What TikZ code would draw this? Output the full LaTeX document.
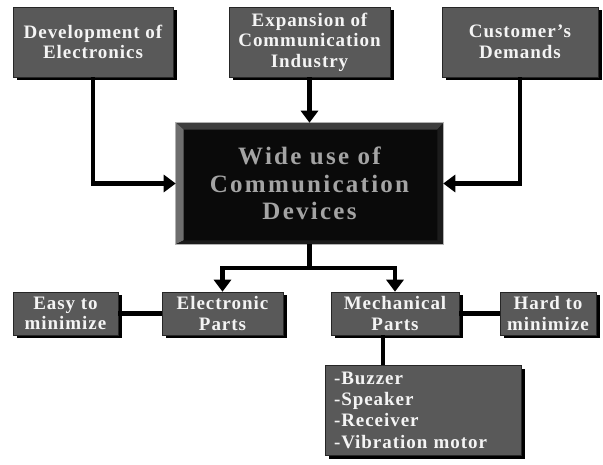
\documentclass[tikz,border=0pt]{standalone}
\usepackage{fontspec}
\newfontfamily\boxfont{Liberation Serif}[LetterSpace=5]
\newfontfamily\bigboxfont{Liberation Serif}[LetterSpace=9]
\usetikzlibrary{arrows.meta,shadows,calc}
\definecolor{boxgray}{HTML}{595959}
\definecolor{boxtext}{HTML}{F4F4F4}
\definecolor{mainfill}{HTML}{0A0A0A}
\definecolor{maintext}{HTML}{A4A4A4}
\definecolor{bevtop}{HTML}{3E3E3E}
\definecolor{bevleft}{HTML}{6E6E6E}
\definecolor{bevdark}{HTML}{1C1C1C}
\begin{document}
\begin{tikzpicture}[x=1pt,y=-1pt,
  gbox/.style={draw=black!85, line width=0.6pt, fill=boxgray, text=boxtext,
    font=\boxfont\bfseries\fontsize{19}{20.5}\selectfont, align=center, inner sep=0pt,
    drop shadow={shadow xshift=3.5pt, shadow yshift=-3.5pt, fill=black, opacity=1}},
  conn/.style={line width=4.5pt},
  arr/.style={conn, -{Triangle[width=17pt,length=12pt]}}]
\fill[white] (0,0) rectangle (603,465);
\useasboundingbox (0,0) rectangle (603,465);

% top boxes
\node[gbox, minimum width=160pt, minimum height=70pt] (dev) at (93,42) {Development of\\Electronics};
\node[gbox, minimum width=161pt, minimum height=70pt] (exp) at (309.5,42) {Expansion of\\Communication\\Industry};
\node[gbox, minimum width=156pt, minimum height=70pt] (cust) at (520,42) {Customer’s\\Demands};

% main box
\node[draw=gray!60, line width=0.6pt, fill=mainfill, text=maintext, align=center, inner sep=0pt,
  minimum width=267pt, minimum height=121pt,
  font=\bigboxfont\bfseries\fontsize{25}{27.5}\selectfont] (main) at (309.5,183.5) {Wide use of\\Communication\\Devices};
\fill[bevtop] (main.north west) -- (main.north east) -- ($(main.north east)+(-6,7)$) -- ($(main.north west)+(8,7)$) -- cycle;
\fill[bevleft] (main.north west) -- ($(main.north west)+(8,7)$) -- ($(main.south west)+(8,-4)$) -- (main.south west) -- cycle;
\fill[bevdark] (main.north east) -- ($(main.north east)+(-6,7)$) -- ($(main.south east)+(-6,-4)$) -- (main.south east) -- cycle;
\fill[bevdark] (main.south west) -- ($(main.south west)+(8,-4)$) -- ($(main.south east)+(-6,-4)$) -- (main.south east) -- cycle;
\draw[gray!60, line width=0.6pt] (main.north west) rectangle (main.south east);

% second row
\node[gbox, minimum width=105pt, minimum height=43pt] (easy) at (65.5,313.5) {Easy to\\minimize};
\node[gbox, minimum width=121pt, minimum height=43pt] (elec) at (222.5,313.5) {Electronic\\Parts};
\node[gbox, minimum width=128pt, minimum height=43pt] (mech) at (395,313.5) {Mechanical\\Parts};
\node[gbox, minimum width=96pt, minimum height=43pt] (hard) at (548,313.5) {Hard to\\minimize};

% list box
\node[gbox, minimum width=196pt, minimum height=90pt, text width=178pt, align=left,
  font=\boxfont\bfseries\fontsize{19}{21.3}\selectfont] (list) at (423,410)
  {-Buzzer\\-Speaker\\-Receiver\\-Vibration motor};

% connectors
\draw[arr] (dev.south) |- (main.west);
\draw[arr] (cust.south) |- (main.east);
\draw[arr] (exp.south) -- (main.north);
\coordinate (br) at (309.5,268);
\draw[conn] (main.south) -- (br);
\draw[arr] (br) -| (elec.north);
\draw[arr] (br) -| (mech.north);
\draw[conn] (easy.east) -- (elec.west);
\draw[conn] (mech.east) -- (hard.west);
\coordinate (m1) at (383,340);
\draw[conn] (mech.south -| m1) -- (list.north -| m1);
\end{tikzpicture}
\end{document}
